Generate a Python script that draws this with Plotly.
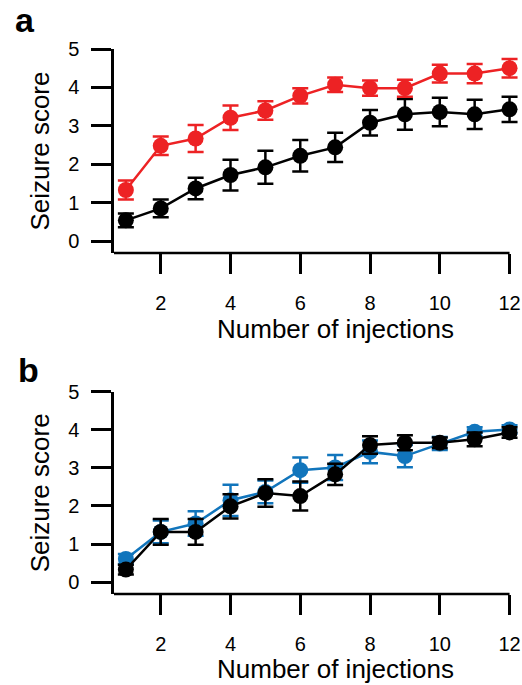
import plotly.graph_objects as go

injections = list(range(1, 13))

# Panel a
a_red = [1.33, 2.48, 2.67, 3.21, 3.40, 3.78, 4.07, 3.98, 3.98, 4.36, 4.36, 4.50]
a_red_err = [0.25, 0.24, 0.35, 0.32, 0.24, 0.20, 0.19, 0.20, 0.22, 0.23, 0.25, 0.24]
a_black = [0.54, 0.85, 1.37, 1.72, 1.92, 2.22, 2.44, 3.08, 3.30, 3.36, 3.30, 3.43]
a_black_err = [0.18, 0.23, 0.28, 0.40, 0.43, 0.41, 0.38, 0.33, 0.40, 0.37, 0.38, 0.33]

# Panel b
b_blue = [0.61, 1.32, 1.54, 2.15, 2.37, 2.94, 3.01, 3.42, 3.31, 3.64, 3.95, 4.01]
b_blue_err = [0.13, 0.30, 0.32, 0.41, 0.30, 0.33, 0.33, 0.30, 0.29, 0.17, 0.12, 0.11]
b_black = [0.33, 1.32, 1.32, 1.99, 2.34, 2.26, 2.83, 3.60, 3.66, 3.66, 3.75, 3.93]
b_black_err = [0.13, 0.34, 0.34, 0.32, 0.36, 0.38, 0.28, 0.23, 0.20, 0.14, 0.18, 0.14]

x_ticks = [2, 4, 6, 8, 10, 12]
y_ticks = [0, 1, 2, 3, 4, 5]
x_title = "Number of injections"
y_title = "Seizure score"

RED = "#ED2224"
BLUE = "#1175BC"
BLACK = "#000000"
FONT = "Arial, Liberation Sans, Helvetica, sans-serif"

W, H = 522, 685
L, R, T, B = 114, 2, 49, 91


def trace(y, err, color, xa, ya):
    return go.Scatter(
        x=injections, y=y, mode="lines+markers",
        line=dict(color=color, width=2.5),
        marker=dict(color=color, size=16, line=dict(width=0)),
        error_y=dict(type="data", array=err, visible=True, color=color,
                     thickness=2.5, width=8),
        xaxis=xa, yaxis=ya, cliponaxis=False, showlegend=False,
    )


fig = go.Figure()
fig.add_trace(trace(a_black, a_black_err, BLACK, "x", "y"))
fig.add_trace(trace(a_red, a_red_err, RED, "x", "y"))
fig.add_trace(trace(b_blue, b_blue_err, BLUE, "x2", "y2"))
fig.add_trace(trace(b_black, b_black_err, BLACK, "x2", "y2"))

xr = [0.66, 12.3]
yr = [-0.31, 5.0]

xcommon = dict(range=xr, tickvals=x_ticks, ticks="outside", ticklen=20,
               tickwidth=2.5, tickcolor="black", showline=False,
               showgrid=False, zeroline=False,
               tickfont=dict(size=20, family=FONT, color="black"),
               ticklabelstandoff=12)
ycommon = dict(range=yr, tickvals=y_ticks, ticks="outside", ticklen=20,
               tickwidth=2.5, tickcolor="black", showline=True,
               linewidth=2.5, linecolor="black",
               showgrid=False, zeroline=False,
               tickfont=dict(size=20, family=FONT, color="black"),
               ticklabelstandoff=8,
               title=dict(text=y_title,
                          font=dict(size=26, family=FONT, color="black"),
                          standoff=12))

ph = H - T - B
pw = W - L - R
a_bottom = (594 - 253) / ph
b_top = (594 - 391.7) / ph

fig.update_layout(
    width=W, height=H,
    margin=dict(l=L, r=R, t=T, b=B),
    paper_bgcolor="white", plot_bgcolor="white",
    xaxis=dict(anchor="y", **xcommon),
    yaxis=dict(domain=[a_bottom, 1], anchor="x", **ycommon),
    xaxis2=dict(anchor="y2", **xcommon),
    yaxis2=dict(domain=[0, b_top], anchor="x2", **ycommon),
)

# x axis lines ending at 12
for xa, ya in (("x", "y"), ("x2", "y2")):
    fig.add_shape(type="line", xref=xa, yref=f"{ya} domain",
                  x0=xr[0], x1=12, y0=0, y1=0,
                  line=dict(color="black", width=2.5), layer="below")


def px2paper(px, py):
    return (px - L) / pw, 1 - (py - T) / ph


# x axis titles
for py in (329, 669):
    xp, yp = px2paper(335, py)
    fig.add_annotation(text=x_title, x=xp, y=yp, xref="paper", yref="paper",
                       showarrow=False, xanchor="center", yanchor="middle",
                       font=dict(size=26, family=FONT, color="black"))

for lab, (px, py) in (("a", (25, 20)), ("b", (28, 370))):
    xp, yp = px2paper(px, py)
    fig.add_annotation(text=f"<b>{lab}</b>", x=xp, y=yp, xref="paper",
                       yref="paper", showarrow=False, xanchor="center",
                       yanchor="middle",
                       font=dict(size=34, family=FONT, color="black"))

fig.write_html("out.html")
